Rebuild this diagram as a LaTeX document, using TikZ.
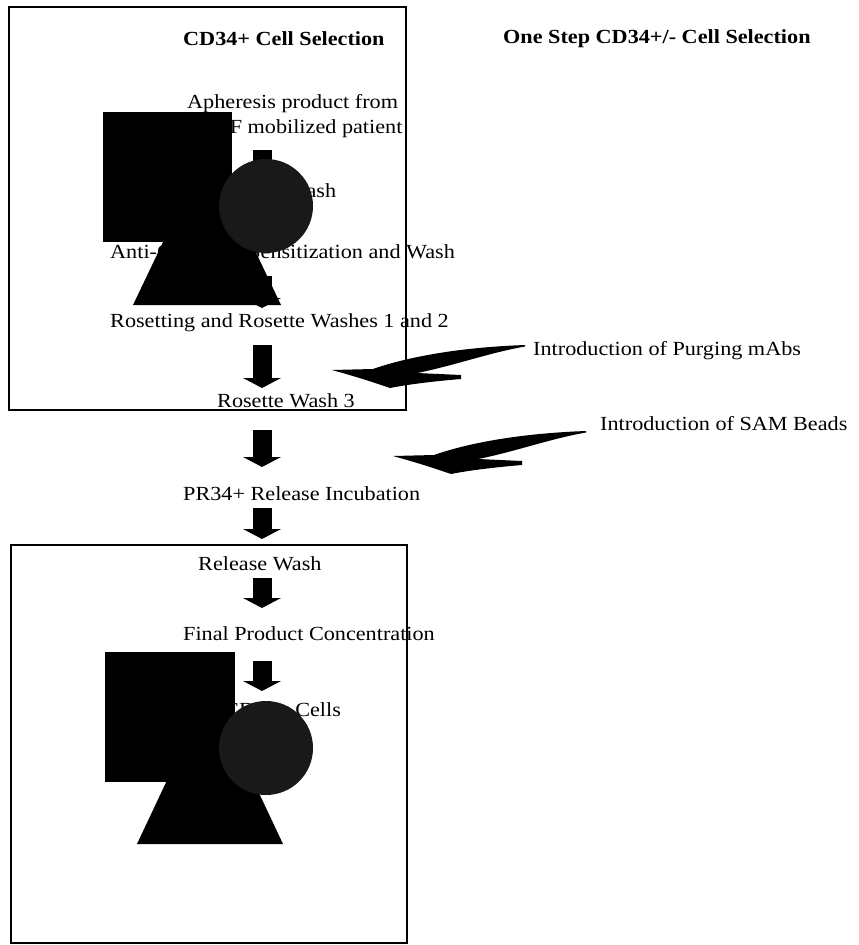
\documentclass[tikz,border=0pt]{standalone}
\usepackage{fontspec}
\setmainfont[FakeStretch=1.11]{Liberation Serif}
\usetikzlibrary{arrows.meta}

\begin{document}
\begin{tikzpicture}[x=1pt, y=-1pt,
    lbl/.style={anchor=base west, inner sep=0pt,
                font=\fontsize{20}{23}\selectfont},
    ttl/.style={lbl, font=\fontsize{20}{23}\selectfont\bfseries},
    frame/.style={draw, line width=2.2pt},
    arr/.style={line width=19pt,
                -{Triangle[width=38pt, length=10pt, line width=0pt]}},
    sq/.style={fill=black},
    tri/.style={fill=black},
    ball/.style={fill=black!90},
    swoosh/.pic={
      \fill (0,0) .. controls (-57,2) and (-112,10) .. (-152,24)
        -- (-193,25) .. controls (-175,30) and (-155,36) .. (-135,43)
        .. controls (-115,39) and (-88,36) .. (-64,34)
        -- (-64,30) -- (-108,28)
        .. controls (-72,21) and (-37,8) .. (0,1.5) -- cycle;
    },
  ]
    \useasboundingbox (0,0) rectangle (859,945);

    % titles
    \node[ttl] (sel)  at (183,45) {CD34+ Cell Selection};
    \node[ttl] (one)  at (503,43) {One Step CD34+/- Cell Selection};

    % steps
    \node[lbl] (aph)   at (187,108) {Apheresis product from};
    \node[lbl] (gcsf)  at (179,133) {G-CSF mobilized patient};
    \node[lbl] (plt)   at (215,197) {Platelet Wash};
    \node[lbl] (anti)  at (110,258) {Anti-CD34 Ab Sensitization and Wash};
    \node[lbl] (rose)  at (110,327) {Rosetting and Rosette Washes 1 and 2};
    \node[lbl] (wash3) at (217,407) {Rosette Wash 3};
    \node[lbl] (rel)   at (183,500) {PR34+ Release Incubation};
    \node[lbl] (relw)  at (198,570) {Release Wash};
    \node[lbl] (conc)  at (183,640) {Final Product Concentration};
    \node[lbl] (cells) at (224,716) {CD34+ Cells};

    % side notes
    \node[lbl] (purge) at (533,355) {Introduction of Purging mAbs};
    \node[lbl] (sam)   at (600,430) {Introduction of SAM Beads};

    \coordinate (col) at (262,0);
    \draw[arr, shorten <=17pt, shorten >=16pt] (gcsf.base -| col) -- (plt.base -| col);
    \draw[arr, shorten <=15pt, shorten >=16pt] (plt.base -| col) -- (anti.base -| col);
    \draw[arr, shorten <=18pt, shorten >=19pt] (anti.base -| col) -- (rose.base -| col);
    \draw[arr, shorten <=18pt, shorten >=19pt] (rose.base -| col) -- (wash3.base -| col);
    \draw[arr, shorten <=23pt, shorten >=33pt] (wash3.base -| col) -- (rel.base -| col);
    \draw[arr, shorten <=8pt, shorten >=31pt] (rel.base -| col) -- (relw.base -| col);
    \draw[arr, shorten <=8pt, shorten >=32pt] (relw.base -| col) -- (conc.base -| col);
    \draw[arr, shorten <=21pt, shorten >=25pt] (conc.base -| col) -- (cells.base -| col);

    % boxes
    \draw[frame] (9,7) rectangle (406,410);
    \draw[frame] (11,545) rectangle (407,943);

    \pic at (525,345) {swoosh};
    \pic at (586,431) {swoosh};

    % upper picture
    \fill[sq] (103,112) rectangle (232,242);
    \fill[tri] (133,305) -- (207,150) -- (281,305) -- cycle;
    \fill[ball] (266,206) circle (47);

    % lower picture
    \fill[sq] (105,652) rectangle (235,782);
    \fill[tri] (137,844) -- (210,689) -- (283,844) -- cycle;
    \fill[ball] (266,748) circle (47);
\end{tikzpicture}
\end{document}
